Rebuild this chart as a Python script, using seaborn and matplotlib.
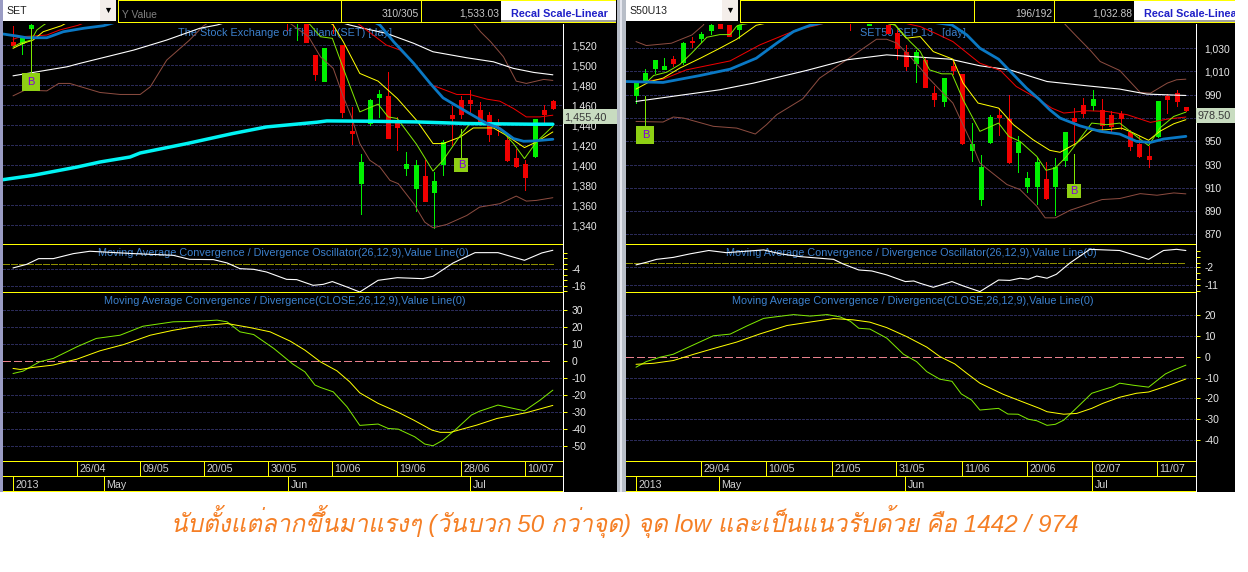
import matplotlib
matplotlib.use("Agg")
import matplotlib.pyplot as plt
from matplotlib import font_manager, ft2font
from matplotlib.patches import Rectangle
import seaborn as sns

W, H = 1248, 572

# ---- SET, left chart ----
set_c_idx = [0, 1, 2, 30, 31, 32, 33, 34, 35, 36, 37, 38, 39, 40, 41, 42, 43, 44, 45, 46, 47, 48, 49, 50, 51, 52, 53, 54, 55, 56, 57, 58, 59]
set_open = [1523.3, 1521.7, 1536.7, 1550, 1545, 1545, 1510, 1484, 1550, 1520, 1434, 1382.3, 1442.3, 1468.3, 1469, 1443.3, 1397.3, 1377.3, 1389, 1373.3, 1401.7, 1450.7, 1465, 1465, 1455, 1450, 1441.7, 1425, 1407.7, 1401.7, 1409, 1455, 1464]
set_close = [1520, 1526.7, 1540, 1545, 1550, 1523.3, 1491, 1517.3, 1545, 1453.3, 1432.3, 1403, 1465, 1471, 1427.3, 1438.3, 1401.7, 1400, 1364, 1384, 1423.3, 1447.3, 1451.7, 1462.3, 1441, 1431.7, 1440, 1405, 1399, 1388.3, 1446.7, 1451.7, 1456.7]
set_high = [1539, 1529.3, 1545, 1545, 1548, 1545, 1510, 1517.3, 1545, 1520, 1458.3, 1411.7, 1465.7, 1475, 1493.3, 1448.3, 1413, 1405.7, 1405, 1393.3, 1425, 1459.3, 1469.3, 1475, 1463.3, 1453.3, 1446.7, 1431.7, 1416.7, 1405.7, 1446.7, 1459.7, 1465]
set_low = [1520, 1511, 1536.7, 1535, 1525, 1523.3, 1485, 1484, 1531.7, 1448.3, 1421.7, 1351.7, 1440, 1448.3, 1427.3, 1415, 1390, 1354.3, 1364, 1337.7, 1390, 1420, 1447.7, 1451.7, 1440, 1424.3, 1430, 1404.3, 1398.3, 1375, 1408.3, 1441.7, 1455.7]

set_cyan_x = [-1.09, 2.2, 7, 9.5, 12.8, 13.9, 19, 24, 27.7, 33.2, 34.3, 38.7, 44.1, 49.6, 56.9, 59]
set_cyan_y = [1385.7, 1390, 1398.3, 1403.3, 1408.3, 1412.3, 1421.7, 1431.7, 1438.3, 1443, 1444.3, 1444, 1443.3, 1441.7, 1441, 1441]
set_white_x = [0, 5.9, 7.3, 13.2, 16.8, 20.4, 22.3, 27, 33, 36.8, 38.3, 40.8, 43.8, 45.9, 49.6, 52.5, 54.7, 56.9, 59]
set_white_y = [1489.3, 1498.3, 1501.7, 1515, 1525, 1536.7, 1540, 1552, 1550, 1540, 1536.7, 1531.7, 1521.7, 1513.3, 1507.3, 1503.3, 1496.7, 1492.7, 1490.3]
set_low_band_x = [0, 1.3, 3.7, 5, 6.2, 9.5, 11.7, 13.9, 15, 16.8, 19.3, 20.8, 26, 32.3, 33.6, 35, 36.1, 37, 37.9, 39, 40.1, 41.2, 42.1, 43.8, 45, 45.9, 47.4, 49.6, 51, 53.2, 55, 56.1, 57.2, 59]
set_low_band_y = [1469.3, 1475, 1474.3, 1481.7, 1481.7, 1472.7, 1470.7, 1470.7, 1478.3, 1505, 1525, 1539, 1570, 1528.3, 1508.3, 1496.7, 1468.3, 1448.3, 1421.7, 1405, 1398.3, 1385, 1381.7, 1361.7, 1343.3, 1337.7, 1341, 1350, 1358.3, 1361.7, 1369.3, 1364.3, 1365, 1367.7]
set_up_band_x = [49.5, 50.5, 51.1, 52.2, 53.6, 55, 56.1, 58, 59]
set_up_band_y = [1550, 1540, 1533.3, 1523.3, 1508.3, 1484, 1481.7, 1485.7, 1484.7]
set_blue_x = [-1.09, 0.4, 1.5, 3.7, 5.5, 7.7, 9.9, 12, 38, 40.1, 41.6, 43.8, 45.6, 47, 49.6, 51.8, 53.2, 54.7, 55.8, 56.9, 59]
set_blue_y = [1531, 1529, 1527.3, 1527.3, 1533.3, 1536.7, 1539.3, 1545, 1550, 1540, 1523.3, 1501.7, 1481.7, 1467.3, 1453.3, 1441.7, 1436.7, 1426.7, 1424, 1424.3, 1426]
set_red_x = [0, 0.8, 2.2, 3.7, 5.1, 7.1, 10, 36, 37.9, 40.8, 42.3, 43.8, 45.8, 48.5, 49.9, 51.8, 53.2, 54.7, 56.1, 57.6, 59]
set_red_y = [1525.7, 1528.3, 1529, 1530, 1535, 1539.7, 1550, 1552, 1540, 1520, 1515, 1501.7, 1480, 1470.7, 1470.7, 1466, 1464, 1456.7, 1448.3, 1448.3, 1450]
set_yellow_x = [0, 1.1, 2.2, 3.3, 5.3, 7, 33, 35, 36.1, 37.9, 39.9, 42, 44.1, 45.9, 47, 48.9, 50.3, 52.5, 53.9, 55.9, 57.2, 59]
set_yellow_y = [1516.7, 1521.7, 1525, 1533.3, 1539.3, 1548, 1552, 1540, 1523.3, 1491.7, 1484, 1466.7, 1445, 1421.7, 1421.7, 1428.3, 1437.3, 1437.3, 1430, 1417.7, 1423.3, 1433.3]
set_lime_x = [0, 0.8, 2, 2.6, 3.3, 5, 31, 32.5, 33.6, 34.9, 36.1, 37.9, 39.9, 41, 42, 44.1, 45.9, 47, 48.9, 49.9, 51.8, 53.2, 54.7, 55.9, 57.2, 59]
set_lime_y = [1518, 1522, 1525, 1535, 1539.7, 1550, 1552, 1540, 1528.3, 1526.7, 1496.7, 1453.3, 1461, 1448.3, 1446.7, 1421, 1394.3, 1405, 1430, 1441, 1441, 1436.7, 1421.7, 1406.7, 1423.3, 1439]

set_osc_x = [0, 1.5, 2.8, 4.4, 6.6, 8.4, 13.2, 15, 17.5, 19.3, 21.9, 23.4, 24.8, 26.3, 27.7, 29.9, 31, 32.8, 33.9, 34.9, 36.5, 37.9, 39.9, 42, 44.8, 45.9, 48.1, 50.5, 53, 55.9, 57.8, 59]
set_osc_y = [-3.1, -0.5, 3.6, 3.6, 7.2, 8.9, 7.2, 6.7, 6, 3.1, 2.9, 0.5, -3.6, -4.1, -6, -11.3, -11.5, -15.6, -14.9, -12.9, -16.8, -20.4, -12, -10.1, -10.8, -9.1, 0.5, 7.9, 7.9, 2.4, 7.7, 9.6]
set_macd_x = [0, 1.1, 2.9, 4.4, 7, 9.1, 11.7, 14.2, 17.5, 20.4, 22.3, 23.4, 24.8, 26.3, 28.5, 30.6, 31.9, 33, 33.6, 35, 36.5, 37.9, 39.9, 41, 42.1, 43.9, 45, 45.9, 47, 48.5, 50.1, 51, 53, 54.7, 55.9, 57.6, 59]
set_macd_y = [-7.5, -6.1, -0.6, 1.4, 8.3, 13.2, 15.1, 20.4, 23, 23.4, 24, 23, 17.1, 15.5, 7.3, -2, -6.5, -14.3, -15.7, -18.3, -27.1, -38.1, -37.3, -39.9, -40.3, -44.8, -49.1, -50.1, -46.8, -39.9, -32, -29.7, -26.1, -28.1, -29.5, -23.2, -17.3]
set_sig_x = [0, 0.8, 2.2, 4.4, 7, 9.5, 12.1, 15, 17.5, 20.4, 23.4, 25.9, 28.1, 30.3, 31.9, 33.6, 35.4, 36.8, 37.9, 39.9, 42, 43.8, 45.8, 46.7, 47.8, 50.7, 52.9, 56.1, 59]
set_sig_y = [-4.5, -5.1, -3.9, -2.5, 1, 5.9, 9.6, 15.1, 18, 20.6, 22, 19.6, 17.1, 11.6, 6.3, -0.6, -5.9, -12.4, -18.9, -25.1, -30.1, -35, -40.9, -42.2, -42.2, -37.9, -34, -30.6, -26.3]

set_main_ticks = [1520, 1500, 1480, 1460, 1440, 1420, 1400, 1380, 1360, 1340]
set_main_labels = ["1,520", "1,500", "1,480", "1,460", "1,440", "1,420", "1,400", "1,380", "1,360", "1,340"]
set_osc_ticks = [-4, -16]
set_macd_ticks = [30, 20, 10, 0, -10, -20, -30, -40, -50]
set_dates = ["26/04", "09/05", "20/05", "30/05", "10/06", "19/06", "28/06", "10/07"]
set_months = ["2013", "May", "Jun", "Jul"]

# ---- SET50 futures, right chart ----
s50_c_idx = [0, 1, 2, 3, 4, 5, 6, 7, 8, 9, 10, 11, 23, 25, 27, 28, 29, 30, 31, 32, 33, 34, 35, 36, 37, 38, 39, 40, 41, 42, 43, 44, 45, 46, 47, 48, 49, 50, 51, 52, 53, 54, 55, 56, 57, 58, 59]
s50_open = [990, 1002, 1013.4, 1012.3, 1020.6, 1018, 1036.6, 1038.6, 1045.7, 1052, 1050, 1046.6, 1060, 1050, 1050, 1042.9, 1027.1, 1017.1, 1020, 991.4, 984.3, 1014.9, 1008, 942.9, 900.9, 949.4, 972.9, 969.4, 940.6, 912, 911.4, 918, 911.4, 934.3, 970, 981.4, 981.1, 977.1, 972.3, 973.7, 958, 947.7, 937.7, 954.3, 989.1, 991.4, 979.7]
s50_close = [1000, 1008.6, 1020, 1014.9, 1017.1, 1034.3, 1035.7, 1042.3, 1050, 1047, 1040.6, 1050, 1055, 1051, 1042.9, 1030.6, 1015.1, 1026.6, 997.1, 986.3, 1004.3, 1011.4, 948.6, 947.7, 928, 970.9, 970.6, 932.3, 949.1, 918.9, 932, 901.4, 928, 957.7, 967.1, 974.3, 986.6, 964.3, 962.9, 970, 945.7, 937.7, 935.1, 984.3, 986.3, 984.3, 977.1]
s50_high = [1000, 1012, 1020, 1021.7, 1022.9, 1035.7, 1039.4, 1044.3, 1052, 1052, 1050, 1050, 1052, 1051, 1050, 1046, 1032.9, 1028.6, 1021.4, 997.7, 1004.3, 1018.6, 1008, 965.7, 938.6, 972.6, 978.6, 990, 954.9, 924, 936.6, 932.3, 935.7, 957.7, 978.6, 987.1, 994.3, 986.6, 976.3, 975.7, 960, 954.3, 945.7, 984.9, 990.9, 994.3, 979.7]
s50_low = [982.9, 1002, 1009, 1012.3, 1015.1, 1016.6, 1030.9, 1035.7, 1042.3, 1047, 1040.6, 1038.6, 1045.7, 1050, 1042.9, 1020.6, 1011.4, 1001.4, 996.3, 980.6, 980, 1008, 948, 932.9, 895.1, 948.6, 955.7, 931.4, 923.4, 906.9, 896.6, 900.9, 887.1, 929.1, 947.1, 970.9, 976.6, 960, 958.6, 960.6, 942.3, 936.6, 927.7, 953.7, 974.3, 980.6, 975.7]

s50_blue_x = [-1.07, 2.9, 6.9, 10.1, 12.9, 15.1, 16.9, 18.7, 25, 33.9, 35.5, 36.9, 38.9, 40.1, 41.9, 43.2, 44.4, 45.5, 47.6, 49.8, 51.9, 53.7, 55.2, 56.6, 59]
s50_blue_y = [1001.4, 1000.6, 1006.6, 1012, 1021.4, 1034.3, 1044.3, 1049.7, 1060, 1050, 1041.4, 1030, 1020.6, 1010.6, 995.7, 986.6, 977.1, 970, 963.4, 958.6, 956.3, 950, 949.1, 952, 954.3]
s50_white_x = [0, 9, 12.6, 18.3, 22.6, 26.9, 30.5, 33.7, 36.9, 40.1, 44.1, 48.4, 51.9, 54.8, 59]
s50_white_y = [984.3, 994.3, 1000, 1010.9, 1020, 1024.3, 1022.3, 1020.6, 1014.9, 1011.4, 1001.4, 997.7, 994.9, 990.6, 989.4]
s50_red_x = [1.3, 2.9, 5.4, 10.1, 13.3, 17.2, 19.4, 24, 30.5, 32.1, 34, 36.9, 39.1, 40.8, 43, 44.6, 45.9, 48.4, 50.5, 52.7, 55.2, 57, 59]
s50_red_y = [1002, 1003.4, 1011.4, 1019.1, 1032.9, 1045.7, 1049.7, 1060, 1048.6, 1042.9, 1035.7, 1017.1, 1010.9, 997.1, 987.1, 978.6, 974.3, 976.3, 975.7, 972.9, 966.3, 969.1, 970.9]
s50_yellow_x = [0, 1.5, 2.9, 4.7, 6.9, 9, 10.8, 12.9, 20, 27.8, 29, 30.5, 31.9, 34, 35.1, 36.7, 38.9, 40.5, 42.6, 44.4, 45.5, 47.3, 48.9, 50.5, 52.1, 53.4, 55, 56.2, 57.7, 59]
s50_yellow_y = [994.9, 1001.4, 1004.3, 1012.9, 1021.4, 1030, 1037.7, 1049.7, 1062, 1050, 1038.6, 1040, 1027.1, 1020.6, 1000, 982.9, 978.6, 964.3, 951.4, 942.3, 940.6, 948.6, 959.4, 960, 961.4, 957.1, 950.9, 958.6, 965.1, 968.6]
s50_lime_x = [1.3, 1.9, 3.3, 4.7, 6, 7.6, 9, 10.1, 10.8, 11.1, 20, 27.8, 29.4, 30.5, 31.5, 32.8, 33.9, 35.1, 36.9, 38.9, 40, 41.2, 43, 44, 45, 46.2, 47.3, 48.9, 50.5, 51.9, 53.7, 55, 56.2, 57.7, 59]
s50_lime_y = [1002, 1006.6, 1009.4, 1016, 1026, 1039.4, 1041.7, 1041.7, 1048.9, 1050, 1062, 1050, 1035.7, 1027.1, 1011.4, 1008, 1008, 985.7, 958.6, 965.7, 954.3, 950, 937.1, 925.1, 927.1, 937.1, 948.6, 965.7, 964.3, 965.7, 954.3, 946.3, 961.4, 971.4, 975.1]
s50_low_band_x = [0, 2.9, 4, 5.1, 8.3, 10.8, 12.8, 14, 15.1, 17.9, 19.7, 22.6, 25.8, 26.9, 28, 29.4, 30.5, 31.4, 32.6, 34, 35, 36, 36.9, 38, 39.8, 41.2, 43, 43.9, 45, 46.6, 48.4, 50, 51.9, 54.1, 55.9, 57.7, 59]
s50_low_band_y = [967.1, 966.6, 970.9, 970, 962.9, 961.4, 956.3, 964.3, 972.9, 986.6, 1004.3, 1020, 1037.7, 1037.7, 1034.3, 1022.9, 1012.9, 1004.3, 994.3, 982.9, 965.7, 948.6, 931.4, 924.3, 912.9, 908.6, 894.3, 884.3, 884.3, 890.9, 895.7, 900, 900.9, 905.1, 903.7, 905.7, 904.9]
s50_up_band_x = [0, 1.1, 3.8, 6, 7.2, 8, 45, 46.1, 47.3, 48.7, 49.8, 51.9, 53, 54.1, 55.2, 57, 58, 59]
s50_up_band_y = [1035.7, 1032.3, 1034.3, 1041.4, 1049.7, 1060, 1060, 1050, 1040, 1028.6, 1018.6, 1010.9, 1001.4, 992, 991.4, 1000, 1002.9, 1003.4]

s50_osc_x = [0, 1.1, 2.2, 4, 5.8, 7.8, 9.7, 13.7, 15.5, 17.6, 21.2, 22.2, 23.9, 25.3, 26.9, 28.9, 29.8, 30.5, 31.9, 33.9, 35.1, 36.9, 38.9, 40.1, 41.2, 42.1, 43, 44.1, 45.1, 46.6, 48.7, 51.9, 55, 56.6, 58, 59]
s50_osc_y = [-0.8, 0.5, 2, 3, 4.8, 6.5, 5.4, 6.8, 4.8, 3.4, 2, -0.3, -3.4, -3.9, -5.9, -9.3, -9, -10.2, -12.2, -9.3, -11.5, -14.4, -8.5, -8.7, -7.6, -8.1, -6.5, -7.6, -5.6, 0.3, 7.1, 6.5, 2, 6.5, 7.1, 6.5]
s50_macd_x = [0, 1.1, 2.6, 4, 5.4, 8.3, 10.1, 11.9, 13.7, 15.1, 16.9, 18.7, 20.5, 21.9, 23, 23.9, 25.1, 26.9, 28.7, 30.1, 31.2, 32.6, 33.9, 34.9, 36, 36.9, 38.9, 39.9, 41, 42.1, 43, 44.1, 45, 45.9, 47.6, 48.9, 51.2, 51.9, 53.4, 55, 56.8, 57.7, 59]
s50_macd_y = [-5.1, -2.4, -0.3, 1.1, 4, 9.9, 10.7, 14.6, 18.2, 19, 20, 19.3, 20, 18.9, 16.8, 13.5, 13.1, 8.8, 1.1, -2.4, -7.2, -10.8, -11.8, -17.8, -20.7, -25.5, -24.7, -27.4, -27.5, -29.9, -30.6, -32.8, -32.3, -30.3, -23.1, -17.5, -14.3, -12.7, -13.7, -14.6, -8.3, -6.4, -4.1]
s50_sig_x = [0, 1.9, 4, 6.2, 8.3, 10.8, 13.3, 16.2, 18.3, 21.2, 23.3, 25.1, 26.9, 29, 31.2, 32.6, 34.2, 35.5, 36.9, 39.4, 41.6, 43.3, 44.1, 45.9, 47.3, 48.9, 50.1, 51.9, 53.7, 55, 56.8, 59]
s50_sig_y = [-3.7, -3.2, -1.9, 1.1, 3.8, 6.9, 10.8, 14.8, 16.2, 18.1, 17.5, 16.4, 13.8, 9.6, 4.5, 0, -3.5, -8, -12.7, -18, -21.8, -24.7, -26.3, -27.5, -27.1, -24.7, -22.3, -19.4, -17.5, -16.9, -14.3, -10.7]

s50_main_ticks = [1030, 1010, 990, 970, 950, 930, 910, 890, 870]
# the 970 label sits under the last price flag in the reference
s50_main_labels = ["1,030", "1,010", "990", "", "950", "930", "910", "890", "870"]
s50_osc_ticks = [-2, -11]
s50_macd_ticks = [20, 10, 0, -10, -20, -30, -40]
s50_dates = ["29/04", "10/05", "21/05", "31/05", "11/06", "20/06", "02/07", "11/07"]
s50_months = ["2013", "May", "Jun", "Jul"]

caption = "นับตั้งแต่ลากขึ้นมาแรงๆ (วันบวก 50 กว่าจุด) จุด low และเป็นแนวรับด้วย คือ 1442 / 974"

# colours
YEL = "#ffff00"
GRID = "#2a2a58"
TITLE = "#3c80cc"
LIME = "#7fe800"
BROWN = "#8c4c40"
BLUE = "#0a78c4"
THIN = 0.72
SLOPE = 0.72

sns.set_theme(style="dark", rc={"lines.antialiased": False, "patch.antialiased": False})
plt.rcParams["font.family"] = ["Liberation Sans", "DejaVu Sans"]


def thai_fonts():
    # whichever installed family has Thai glyphs goes after the latin one
    names = []
    for f in font_manager.fontManager.ttflist:
        try:
            if 0x0E19 in ft2font.FT2Font(f.fname).get_charmap() and f.name not in names:
                names.append(f.name)
        except Exception:
            pass
    return names


fig = plt.figure(figsize=(W / 100, H / 100), dpi=100, facecolor="white")


def px_axes(x0, y0, x1, y1, z=1):
    ax = fig.add_axes([x0 / W, 1 - y1 / H, (x1 - x0) / W, (y1 - y0) / H], zorder=z)
    ax.patch.set_alpha(0)
    for s in ax.spines.values():
        s.set_visible(False)
    return ax


bg = px_axes(0, 0, W, H, z=0)
bg.set_xlim(0, W)
bg.set_ylim(H, 0)
bg.axis("off")
top = px_axes(0, 0, W, H, z=5)
top.set_xlim(0, W)
top.set_ylim(H, 0)
top.axis("off")


def rect(ax, x0, y0, x1, y1, color, **kw):
    ax.add_patch(Rectangle((x0, y0), x1 - x0, y1 - y0, facecolor=color, edgecolor=kw.pop("edgecolor", "none"), lw=kw.pop("lw", 0), **kw))


def frame_h(y, x0, x1):
    # one pixel filled strips keep the frame pure yellow
    rect(bg, x0, y, x1, y + 1, YEL, zorder=4)


def frame_v(x, y0, y1, color=YEL):
    rect(bg, x, y0, x + 1, y1, color, zorder=4)


def line(ax, xs, ys, color, lw=SLOPE):
    # aliased sloped lines come out two pixels wide, so these stay smoothed
    sns.lineplot(x=xs, y=ys, ax=ax, color=color, linewidth=lw, antialiased=True, estimator=None, sort=False, errorbar=None, legend=False, zorder=4)


def candles(ax, idx, o, c, h, l):
    for i in range(len(idx)):
        col = "#00f000" if c[i] >= o[i] else "#f00000"
        ax.vlines(idx[i], l[i], h[i], color=col, lw=THIN, zorder=3)
        ax.vlines(idx[i], min(o[i], c[i]), max(o[i], c[i]), color=col, lw=3.5, capstyle="butt", zorder=3)


def buy_mark(ax, i, stem_top, stem_bot, mid, size):
    ax.vlines(i, stem_bot, stem_top, color=LIME, lw=THIN, zorder=4)
    ax.scatter([i], [mid], marker="s", s=size, color="#8fd014", linewidths=0, zorder=6)
    ax.text(i, mid, "B", color="#8000e0", fontsize=8, ha="center", va="center", zorder=7)


def style_axis(ax, xlim, ylim, ticks, labels, tick_len):
    ax.set_xlim(*xlim)
    ax.set_ylim(*ylim)
    ax.set_xticks([])
    ax.grid(False)
    ax.yaxis.tick_right()
    ax.set_yticks(ticks)
    ax.set_yticklabels(labels)
    # lengths here are in screen pixels, matplotlib wants points
    ax.tick_params(axis="y", length=tick_len * 0.72, width=THIN, color=YEL, pad=(8.5 - tick_len) * 0.72, labelsize=7.4, labelcolor="#e8e8e8")
    ax.set_xlabel("")
    ax.set_ylabel("")
    for t in ticks:
        if t != 0:
            ax.axhline(t, color=GRID, lw=THIN, ls=(0, (2.5, 1.5)), zorder=1)


def panel(x0, x1, idx0_px, step, sym, y_value, counts, last, price, price_txt, main_ylim, osc_ylim, macd_ylim,
          main_ticks, main_labels, osc_ticks, macd_ticks, osc_minor, dates, date_px, months, month_px,
          main_title, title_x, osc_title_x, macd_title_x, combo_end, div1, div2, btn_end,
          cd, lines, bands, osc, macd, sig, marks):
    xlim = (-(idx0_px - x0) / step, 59 + (x1 - idx0_px - step * 59) / step)

    # header row
    rect(bg, x0, 0, combo_end, 21, "white")
    rect(bg, combo_end - 16, 0, combo_end, 21, "#f4eeea")
    top.scatter([combo_end - 8], [10], marker="v", s=14, color="black", linewidths=0)
    bg.text(x0 + 3, 14, sym, color="#202020", fontsize=7.6, va="baseline")
    hx = combo_end + 2
    frame_h(0, hx, btn_end)
    frame_h(22, hx, btn_end)
    for xv in [hx, div1, div2]:
        frame_v(xv, 0, 22)
    if y_value:
        bg.text(hx + 4, 18, y_value, color="#808080", fontsize=7.4, va="baseline")
    bg.text(div2 - 2, 17, counts, color="#c8c8c8", fontsize=7.4, va="baseline", ha="right")
    bg.text(div2 + 78, 17, last, color="#c8c8c8", fontsize=7.4, va="baseline", ha="right")
    bx = div2 + 80
    rect(bg, bx, 1, btn_end, 21, "white")
    rect(bg, bx, 20, btn_end, 22, "#a0a0a0")
    bg.text(bx + 10, 17, "Recal Scale-Linear", color="#2020c8", fontsize=7.8, weight="bold", va="baseline", zorder=3)

    # main price pane
    a = px_axes(x0, 24, x1, 244.5)
    style_axis(a, xlim, main_ylim, main_ticks, main_labels, 0)
    a.text(title_x, 36, main_title, color=TITLE, fontsize=7.8, va="baseline", ha="left",
           transform=bg.transData, zorder=2, clip_on=False)
    candles(a, *cd)
    for xs, ys in bands:
        line(a, xs, ys, BROWN)
    for xs, ys, col, lw in lines:
        line(a, xs, ys, col, lw)
    for m in marks:
        buy_mark(a, *m)

    # oscillator pane
    b = px_axes(x0, 245, x1, 292)
    style_axis(b, xlim, osc_ylim, osc_ticks, [str(t) for t in osc_ticks], 4)
    b.set_yticks(osc_minor, minor=True)
    b.tick_params(axis="y", which="minor", length=3, width=THIN, color=YEL)
    b.hlines(0, xlim[0], 59, color="#909000", lw=THIN, ls=(0, (6, 2)), zorder=2)
    line(b, osc[0], osc[1], "white", 0.8)
    b.text(osc_title_x, 256, "Moving Average Convergence / Divergence Oscillator(26,12,9),Value Line(0)",
           color=TITLE, fontsize=7.8, va="baseline", transform=bg.transData, zorder=2, clip_on=False)

    # macd pane
    c = px_axes(x0, 293, x1, 461)
    style_axis(c, xlim, macd_ylim, macd_ticks, [str(t) for t in macd_ticks], 4)
    c.hlines(0, xlim[0], 59, color="#e8808c", lw=THIN, ls=(0, (8, 3)), zorder=2)
    line(c, macd[0], macd[1], LIME)
    line(c, sig[0], sig[1], YEL)
    c.text(macd_title_x, 304, "Moving Average Convergence / Divergence(CLOSE,26,12,9),Value Line(0)",
           color=TITLE, fontsize=7.8, va="baseline", transform=bg.transData, zorder=2, clip_on=False)

    # frame and date rows
    for yh in [244, 292, 461, 476, 491]:
        frame_h(yh, x0, x1)
    frame_v(x1, 24, 492, "white")
    for p in date_px:
        frame_v(p, 461, 476)
    for p in month_px:
        frame_v(p, 476, 491)
    for p, d in zip(date_px, dates):
        bg.text(p + 2.5, 472.5, d, color="#d0d0d0", fontsize=7.7, va="baseline", zorder=4)
    for p, d in zip(month_px, months):
        bg.text(p + 2.5, 488, d, color="#d0d0d0", fontsize=7.7, va="baseline", zorder=4)

    # last price flag
    rect(top, x1, price[0], price[1], price[2], "#c8dcc0")
    top.text(x1 + 1, price[2] - 4, price_txt, color="#383838", fontsize=7.8, va="baseline")


# black screen and gutters
rect(bg, 0, 0, 1235, 492, "black")
rect(bg, 0, 0, 3, 492, "#9a9cc4")
rect(bg, 617, 0, 625.5, 492, "#b8bec8")
rect(bg, 620, 0, 622, 492, "#e4e6ee")

panel(3, 563, 13, 9.15, "SET", "Y Value", "310/305", "1,533.03", (109, 617, 124), "1,455.40",
      (1321, 1541), (-20.4, 13.4), (-59.1, 40), set_main_ticks, set_main_labels, set_osc_ticks, set_macd_ticks,
      [8, 4, 0, -8, -12, -20], set_dates, [77, 140, 204, 268, 332, 397, 461, 525], set_months, [13, 104, 288, 470],
      "The Stock Exchange of Thailand(SET) [day]", 178, 98, 104, 116, 341, 421, 616,
      (set_c_idx, set_open, set_close, set_high, set_low),
      [(set_white_x, set_white_y, "white", 0.8), (set_red_x, set_red_y, "#f00000", SLOPE),
       (set_yellow_x, set_yellow_y, YEL, SLOPE), (set_lime_x, set_lime_y, LIME, SLOPE),
       (set_cyan_x, set_cyan_y, "#00f4f4", 2.5), (set_blue_x, set_blue_y, BLUE, 2.0)],
      [(set_low_band_x, set_low_band_y), (set_up_band_x, set_up_band_y)],
      (set_osc_x, set_osc_y), (set_macd_x, set_macd_y), (set_sig_x, set_sig_y),
      [(2, 1536.7, 1491.7, 1483.3, 160), (49, 1436.7, 1407.3, 1400, 105)])

panel(626, 1196, 636, 9.32, "S50U13", "", "196/192", "1,032.88", (108, 1235, 123), "978.50",
      (861.4, 1050.8), (-14.6, 9.3), (-49.8, 30.3), s50_main_ticks, s50_main_labels, s50_osc_ticks, s50_macd_ticks,
      [6, 3, 0, -5, -8, -14], s50_dates, [701, 766, 832, 896, 962, 1027, 1092, 1157], s50_months, [636, 719, 905, 1092],
      "SET50 SEP 13   [day]", 860, 726, 732, 738, 974, 1054, 1235,
      (s50_c_idx, s50_open, s50_close, s50_high, s50_low),
      [(s50_white_x, s50_white_y, "white", 0.8), (s50_red_x, s50_red_y, "#f00000", SLOPE),
       (s50_yellow_x, s50_yellow_y, YEL, SLOPE), (s50_lime_x, s50_lime_y, LIME, SLOPE),
       (s50_blue_x, s50_blue_y, BLUE, 2.0)],
      [(s50_low_band_x, s50_low_band_y), (s50_up_band_x, s50_up_band_y)],
      (s50_osc_x, s50_osc_y), (s50_macd_x, s50_macd_y), (s50_sig_x, s50_sig_y),
      [(1, 988.6, 962.9, 955.4, 160), (47, 939.4, 913.7, 907.3, 105)])

rect(top, 1235, 0, W, 500, "white")

bg.text(625, 521, caption, color="#f57f25", fontsize=17.5, style="italic", ha="center", va="center",
        family=["Liberation Sans"] + thai_fonts() + ["DejaVu Sans"])

fig.savefig("out.png", dpi=100)
